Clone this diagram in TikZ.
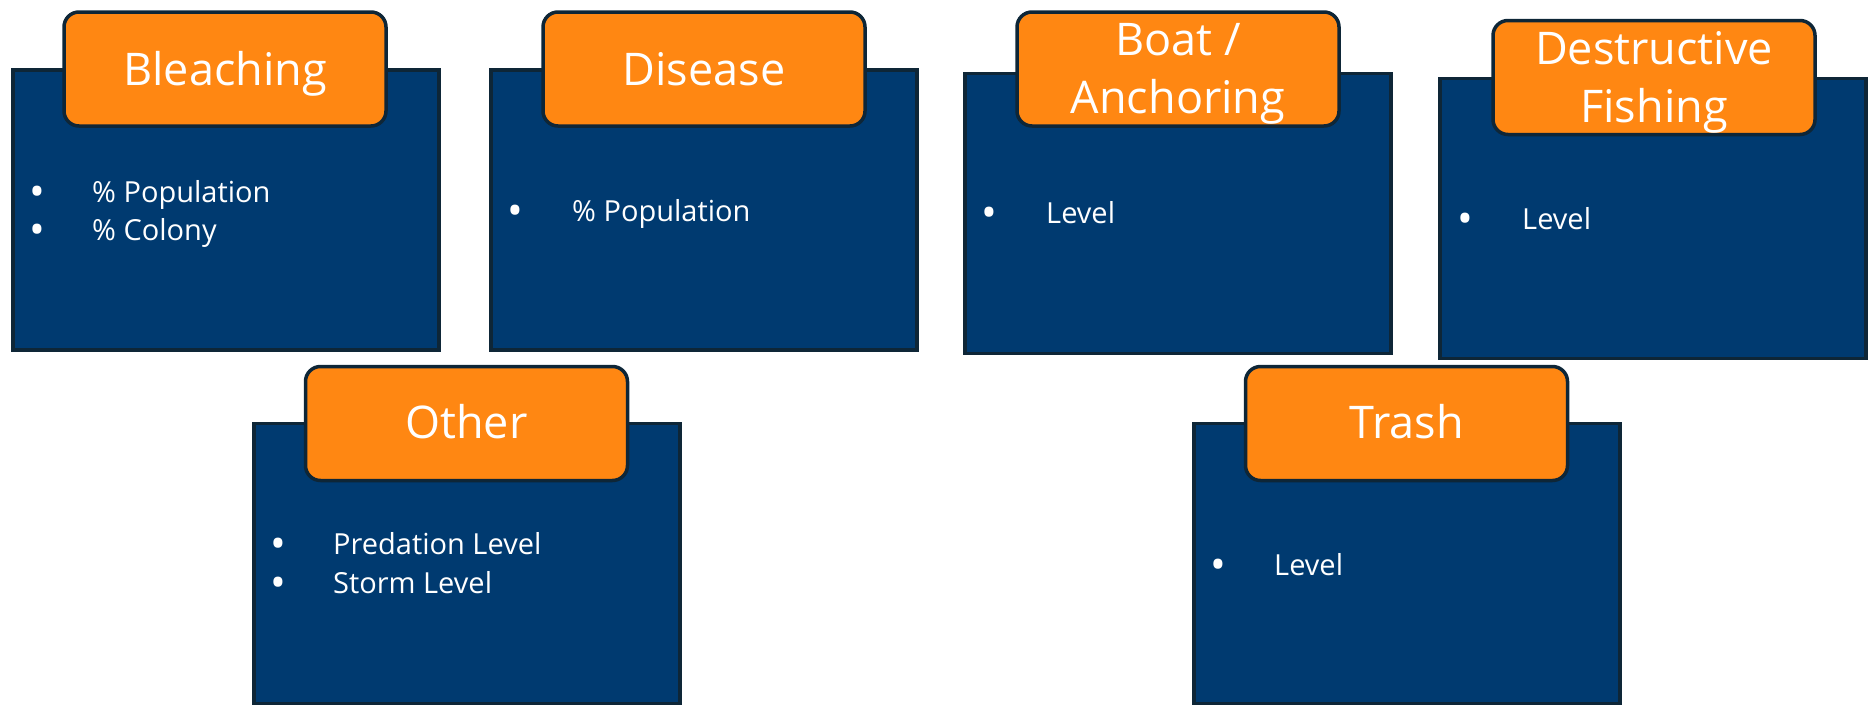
\documentclass[tikz,border=0pt]{standalone}
\usepackage{fontspec}
\setmainfont{Open Sans}
\definecolor{reefblue}{HTML}{003A70}
\definecolor{taborange}{HTML}{FF8712}
\definecolor{edgedark}{HTML}{0E2637}

\begin{document}
\begin{tikzpicture}[x=1pt,y=-1pt,
	panel/.style={draw=edgedark,fill=reefblue,line width=3.5pt,inner sep=0,outer sep=0,minimum width=426pt,minimum height=280pt},
	tab/.style={draw=edgedark,fill=taborange,line width=3.5pt,rounded corners=15pt,inner sep=0,outer sep=0,minimum width=322pt,minimum height=114pt},
	title/.style={anchor=base,text=white,inner sep=0,font=\fontsize{45}{54}\selectfont},
	dot/.style={anchor=base,text=white,inner sep=0,yshift=-4pt,font=\fontsize{42}{50}\selectfont},
	item/.style={anchor=base west,text=white,inner sep=0,font=\fontsize{29}{35}\selectfont}]
	\useasboundingbox (0,0) rectangle (1871,707);
	% top row
	\node[panel] (bleach) at (226,210) {};
	\node[tab] (bleachtab) at (225,69) {};
	\node[title] (bleachttl) at (225,85) {Bleaching};
	\node[dot] (bleachd1) at (37,202) {•};
	\node[item] (bleachi1) at (92,202) {\% Population};
	\node[dot] (bleachd2) at (37,240) {•};
	\node[item] (bleachi2) at (92,240) {\% Colony};

	\node[panel] (disease) at (704,210) {};
	\node[tab] (diseasetab) at (704,69) {};
	\node[title] (diseasettl) at (704,85) {Disease};
	\node[dot] (diseased1) at (515,221) {•};
	\node[item] (diseasei1) at (572,221) {\% Population};

	\node[panel] (boat) at (1178,213.5) {};
	\node[tab] (boattab) at (1178,69) {};
	\node[title] (boatttl1) at (1178,55) {Boat /};
	\node[title] (boatttl2) at (1178,113) {Anchoring};
	\node[dot] (boatd1) at (989,223) {•};
	\node[item] (boati1) at (1046,223) {Level};

	\node[panel] (fishing) at (1653,218.5) {};
	\node[tab] (fishingtab) at (1654,77.5) {};
	\node[title] (fishingttl1) at (1654,64) {Destructive};
	\node[title] (fishingttl2) at (1654,122) {Fishing};
	\node[dot] (fishingd1) at (1465,229) {•};
	\node[item] (fishingi1) at (1522,229) {Level};
	% bottom row
	\node[panel] (other) at (467,563.5) {};
	\node[tab] (othertab) at (466.5,423.5) {};
	\node[title] (otherttl) at (466.5,438) {Other};
	\node[dot] (otherd1) at (278,554) {•};
	\node[item] (otheri1) at (333,554) {Predation Level};
	\node[dot] (otherd2) at (278,593) {•};
	\node[item] (otheri2) at (333,593) {Storm Level};

	\node[panel] (trash) at (1407,563.5) {};
	\node[tab] (trashtab) at (1406.5,423.5) {};
	\node[title] (trashttl) at (1406.5,438) {Trash};
	\node[dot] (trashd1) at (1218,575) {•};
	\node[item] (trashi1) at (1274,575) {Level};
\end{tikzpicture}
\end{document}
